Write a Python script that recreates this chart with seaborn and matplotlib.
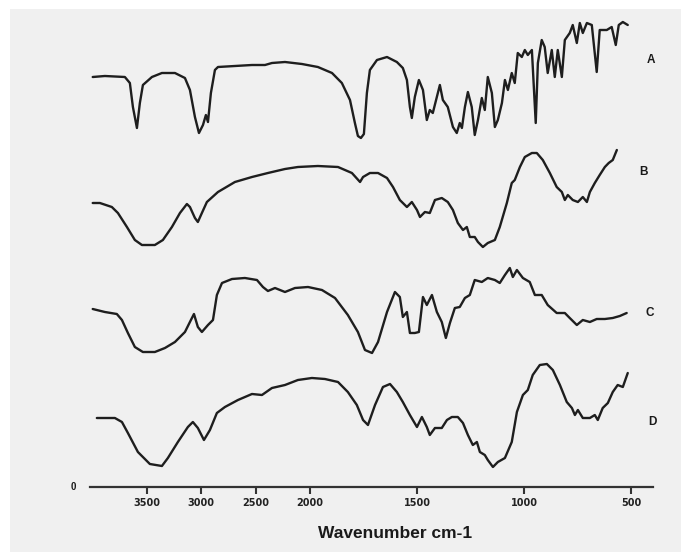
import numpy as np
import pandas as pd
import matplotlib
matplotlib.use("Agg")
import matplotlib.pyplot as plt
import seaborn as sns
from matplotlib.patches import Rectangle

# ---------------- data (wavenumber cm-1, relative transmittance) ----------------
A_wn = [4000, 3888, 3704, 3658, 3630, 3593, 3566, 3538, 3455, 3363, 3243, 3151, 3105, 3059,
        3022, 2985, 2958, 2939, 2912, 2875, 2847, 2691, 2534, 2414, 2350, 2230, 2074,
        1963, 1897, 1851, 1813, 1790, 1776, 1762, 1748, 1734, 1720,
        1687, 1640, 1594, 1566, 1547, 1533, 1524, 1510, 1491, 1472,
        1454, 1440, 1426, 1393, 1379, 1356, 1332, 1314, 1300, 1290,
        1276, 1262, 1244, 1230, 1215, 1197, 1183, 1169, 1150, 1136,
        1122, 1103, 1089, 1075, 1057, 1043, 1029, 1010, 996, 982,
        963, 945, 935, 917, 903, 889, 870, 856, 842, 823,
        809, 786, 772, 753, 739, 725, 706, 683, 660, 646,
        613, 590, 571, 557, 538, 515]
A_T = [63, 64, 63, 57, 33, 12, 37, 55, 63, 67, 67, 62, 50, 23, 7, 15, 25, 18, 47, 70,
       73, 74, 75, 75, 77, 78, 76,
       73, 67, 57, 40, 17, 4, 2, 6, 47, 70,
       80, 83, 78, 72, 60, 33, 22, 43, 60, 50,
       20, 30, 27, 55, 40, 33, 13, 7, 17, 12,
       33, 48, 33, 5, 20, 42, 30, 63, 47, 13,
       20, 37, 60, 50, 67, 57, 87, 83, 90, 85,
       90, 17, 77, 100, 93, 67, 90, 63, 90, 63,
       100, 107, 115, 97, 117, 107, 117, 115, 68, 110,
       110, 113, 95, 115, 118, 115]

B_wn = [4000, 3934, 3824, 3768, 3685, 3612, 3547, 3428, 3354, 3271, 3197, 3133, 3105, 3059,
        3032, 2995, 2949, 2847, 2691, 2534, 2387, 2230, 2111,
        1963, 1869, 1804, 1766, 1752, 1720, 1682, 1640, 1612, 1580,
        1547, 1524, 1500, 1486, 1463, 1440, 1416, 1384, 1356, 1332,
        1309, 1285, 1267, 1253, 1230, 1215, 1192, 1169, 1136, 1113,
        1080, 1057, 1043, 1019, 996, 963, 940, 912, 879, 847,
        823, 809, 795, 772, 748, 725, 706, 692, 669, 646,
        622, 604, 585, 566]
B_T = [47, 47, 43, 37, 23, 10, 5, 5, 10, 23, 37, 46, 43, 32, 28, 37, 48, 58, 68, 73,
       77, 81, 83,
       84, 83, 77, 68, 73, 77, 77, 72, 63, 50,
       43, 48, 40, 33, 38, 37, 50, 52, 48, 40,
       27, 20, 23, 13, 13, 8, 3, 7, 10, 23,
       47, 67, 70, 83, 93, 97, 97, 90, 77, 63,
       58, 50, 55, 50, 48, 53, 48, 58, 67, 75,
       83, 87, 90, 100]

C_wn = [4000, 3888, 3778, 3731, 3676, 3612, 3538, 3428, 3335, 3243, 3151, 3096, 3068, 3032,
        2995, 2939, 2893, 2857, 2810, 2718, 2599, 2488, 2433, 2387, 2322, 2230, 2138, 2018,
        1944, 1883, 1823, 1776, 1743, 1710, 1682, 1640, 1603, 1580,
        1566, 1547, 1533, 1510, 1491, 1472, 1454, 1430, 1407, 1384,
        1365, 1346, 1323, 1300, 1276, 1253, 1230, 1197, 1169, 1136,
        1113, 1089, 1066, 1052, 1033, 1005, 973, 949, 917, 889,
        847, 809, 786, 753, 725, 692, 660, 622, 585, 552, 520]
C_T = [46, 43, 41, 35, 22, 8, 3, 3, 7, 13, 23, 35, 41, 28, 23, 30, 35, 60, 72, 76,
       77, 75, 68, 64, 67, 63, 67, 68,
       65, 57, 40, 23, 5, 2, 13, 43, 63, 58,
       38, 43, 22, 22, 23, 58, 50, 60, 43, 33,
       17, 32, 47, 48, 57, 60, 75, 73, 77, 75,
       72, 80, 87, 78, 85, 77, 73, 60, 60, 50,
       42, 42, 37, 30, 35, 33, 36, 36, 37, 39, 42]

D_wn = [3962, 3796, 3731, 3676, 3584, 3474, 3363, 3308, 3216, 3124, 3078, 3032, 2976, 2921,
        2857, 2783, 2663, 2534, 2442, 2350, 2230, 2111,
        1991, 1930, 1869, 1823, 1781, 1752, 1729, 1696, 1659, 1626,
        1594, 1566, 1533, 1500, 1477, 1454, 1440, 1416, 1384, 1360,
        1337, 1309, 1285, 1262, 1239, 1220, 1206, 1183, 1169, 1145,
        1122, 1089, 1057, 1033, 1005, 982, 959, 926, 893, 865,
        832, 800, 776, 762, 748, 725, 692, 669, 655, 632,
        608, 585, 562, 538, 515]
D_T = [52, 52, 48, 37, 18, 6, 4, 12, 28, 43, 48, 42, 30, 40, 57, 63, 70, 76, 75, 82,
       85, 90,
       92, 91, 88, 78, 65, 50, 45, 65, 83, 86,
       78, 68, 55, 43, 53, 43, 35, 42, 42, 50,
       53, 53, 47, 35, 25, 28, 18, 15, 10, 3,
       8, 12, 28, 58, 75, 80, 95, 105, 106, 100,
       85, 68, 62, 55, 60, 52, 52, 55, 50, 62,
       67, 78, 85, 83, 97]

sample_labels = ["A", "B", "C", "D"]
tick_values = [3500, 3000, 2500, 2000, 1500, 1000, 500]
tick_labels = ["3500", "3000", "2500", "2000", "1500", "1000", "500"]
x_label = "Wavenumber cm-1"

# ---------------- layout / style ----------------
offsets = [140, 250, 355, 470]          # vertical stacking of the traces
label_pos = [(651, 60), (644, 172), (650, 313), (652, 422)]  # pixel positions of A-D
W, H = 681, 552

sns.set_theme(style="white")
plt.rcParams["font.family"] = ["Liberation Sans", "DejaVu Sans"]

def fwd(w):
    w = np.asarray(w, dtype=float)
    return np.where(w >= 2000, w, 2000 - (2000 - w) * 1.97)

def inv(u):
    u = np.asarray(u, dtype=float)
    return np.where(u >= 2000, u, 2000 - (2000 - u) / 1.97)

frames = []
for lab, wn, T, off in zip(sample_labels, [A_wn, B_wn, C_wn, D_wn],
                           [A_T, B_T, C_T, D_T], offsets):
    frames.append(pd.DataFrame({"sample": lab, "wn": wn,
                                "y": np.asarray(T, float) - off}))
df = pd.concat(frames, ignore_index=True)

fig = plt.figure(figsize=(W / 100, H / 100), dpi=100, facecolor="white")
bg = Rectangle((10 / W, 0), (W - 10) / W, (H - 9) / H,
               transform=fig.transFigure, facecolor="#f0f0f0",
               edgecolor="none", zorder=-10)
fig.patches.append(bg)
ax = fig.add_axes([90 / W, 65 / H, 563 / W, 487 / H])
ax.set_facecolor("none")
ax.set_zorder(5)

sns.lineplot(data=df, x="wn", y="y", units="sample", estimator=None, sort=False,
             color="#1e1e1e", linewidth=1.7, ax=ax, legend=False)

ax.set_xscale("function", functions=(fwd, inv))
ax.set_xlim(4025, 397)
ax.set_ylim(-487, 0)

for s in ["top", "left", "right"]:
    ax.spines[s].set_visible(False)
ax.spines["bottom"].set_color("#333333")
ax.spines["bottom"].set_linewidth(1.6)

ax.set_xticks(tick_values)
ax.set_xticklabels(tick_labels, fontsize=7, fontweight="heavy", color="#222222",
                   family=["DejaVu Sans"])
ax.tick_params(axis="x", direction="out", length=5, width=1.5, color="#333333", pad=3,
               bottom=True)
ax.set_yticks([])
ax.set_xlabel("")
ax.set_ylabel("")

fig.text(395 / W, 1 - 533 / H, x_label, ha="center", va="center",
         fontsize=12.5, fontweight="bold", color="#1a1a1a")
for lab, (px, py) in zip(sample_labels, label_pos):
    fig.text(px / W, 1 - py / H, lab, ha="center", va="center",
             fontsize=8.5, fontweight="bold", color="#1a1a1a")
fig.text(73 / W, 1 - 487 / H, "0", ha="center", va="center",
         fontsize=7, fontweight="heavy", color="#1a1a1a")

fig.savefig("out.png", dpi=100, facecolor=fig.get_facecolor())
